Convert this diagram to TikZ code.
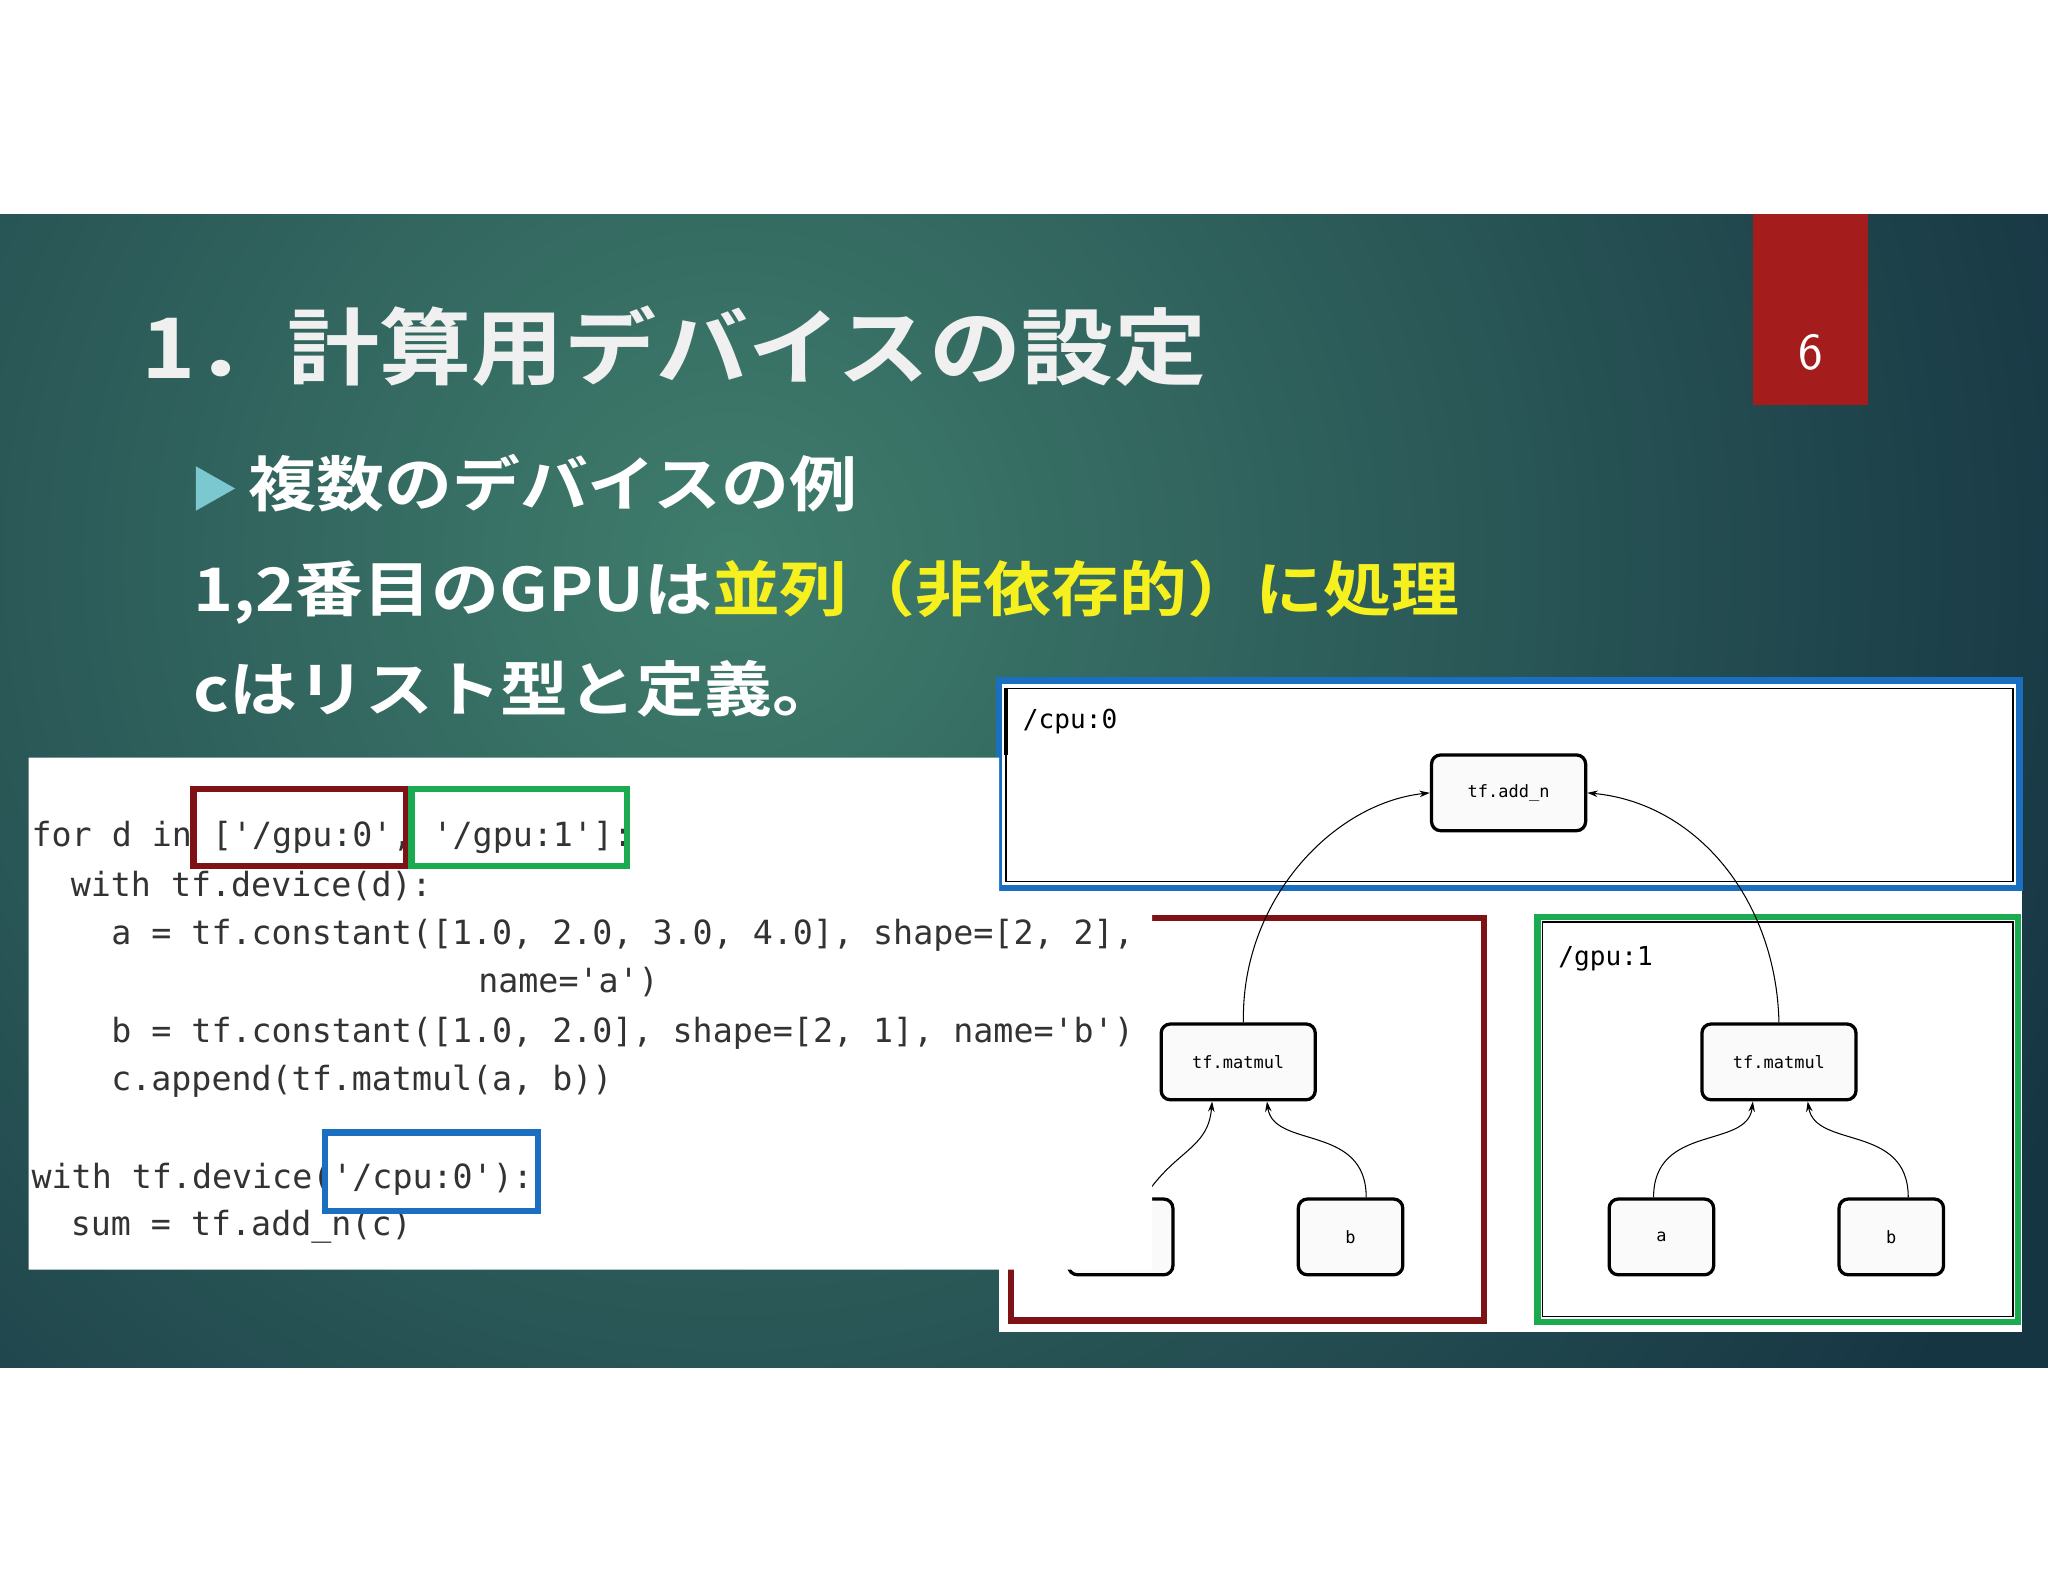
\documentclass[tikz,border=0pt]{standalone}
\usepackage{fontspec}
\setmonofont{DejaVu Sans Mono}
\newfontfamily\jp{Noto Sans CJK JP Bold}
\usetikzlibrary{arrows.meta}
\definecolor{bandouter}{HTML}{163543}
\definecolor{bandinner}{HTML}{3F7D6C}
\definecolor{slidered}{HTML}{A51C1C}
\definecolor{hlred}{HTML}{7E1214}
\definecolor{hlgreen}{HTML}{1AAB50}
\definecolor{hlblue}{HTML}{1A6FC0}
\definecolor{ytext}{HTML}{F5F01E}
\definecolor{bullet}{HTML}{7CC8D0}
\tikzset{
  codeline/.style={anchor=base west,inner sep=0pt,font=\ttfamily\fontsize{25.5}{25.5}\selectfont,text=black!80},
  gnode/.style={draw=black,line width=2.5pt,rounded corners=7pt,fill=gray!4,minimum width=118pt,minimum height=58pt,font=\ttfamily\fontsize{13}{13}\selectfont},
  leaf/.style={gnode,minimum width=80pt},
  edge/.style={-{Stealth[length=8pt,width=5pt]},line width=0.8pt},
  hl/.style={line width=5pt},
  glabel/.style={anchor=base west,inner sep=0pt,font=\ttfamily\fontsize{20}{20}\selectfont},
  jtext/.style={anchor=base west,inner sep=0pt,text=white,xscale=1.13}
}
\begin{document}
\begin{tikzpicture}[x=1pt,y=-1pt]
\useasboundingbox (0,0) rectangle (1568,1211);
\fill[white] (0,0) rectangle (1568,1211);
\begin{scope}
\clip (0,164) rectangle (1568,1047);
\fill[bandouter] (0,160) rectangle (1568,1050);
\shade[inner color=bandinner,outer color=bandouter] (560,430) circle (1100);
\end{scope}
% slide number
\fill[slidered] (1342,164) rectangle (1430,310);
\node[text=white,font=\sffamily\fontsize{40}{40}\selectfont] (num) at (1386,270) {6};
% title
\node[jtext,text=gray!12,font=\jp\fontsize{64}{64}\selectfont,xscale=0.975] (title) at (108,290) {1．計算用デバイスの設定};
\fill[bullet] (150,357) -- (180,374) -- (150,391) -- cycle;
\node[jtext,font=\jp\fontsize{46}{46}\selectfont] (sub) at (190,388) {複数のデバイスの例};
\node[jtext,font=\jp\fontsize{46}{46}\selectfont] (l1) at (148,468) {1,2番目のGPUは\textcolor{ytext}{並列（非依存的）に処理}};
\node[jtext,font=\jp\fontsize{46}{46}\selectfont] (l2) at (148,545) {cはリスト型と定義。};
% graph panel
\fill[white] (765,519) rectangle (1548,1020);
\draw[line width=1.2pt] (770,527) rectangle (1541,675);
\draw[line width=3pt] (770,527) -- (770,578);
\draw[hl,hlblue] (765,521) rectangle (1546,680);
\node[glabel] (cpu) at (783,558) {/cpu:0};
\node[gnode] (add) at (1155,607) {tf.add\_n};
% gpu0 box
\draw[hl,hlred] (774,1011) -- (774,703) -- (1136,703) -- (1136,1011) -- cycle;
% gpu1 box
\draw[line width=1.2pt] (1181,706) rectangle (1541,1008);
\draw[hl,hlgreen] (1177,702) rectangle (1545,1012);
\node[glabel] (gpu) at (1193,739) {/gpu:1};
\node[gnode] (m0) at (948,813) {tf.matmul};
\node[gnode] (m1) at (1362,813) {tf.matmul};
\node[leaf] (a0) at (858,947) {a};
\node[leaf] (b0) at (1034,947) {b};
\node[leaf] (a1) at (1272,947) {a};
\node[leaf] (b1) at (1448,947) {b};
\draw[edge] ([xshift=4pt]m0.north) .. controls (950,690) and (1020,615) .. (add.west);
\draw[edge] (m1.north) .. controls (1360,690) and (1300,615) .. (add.east);
\draw[edge] ([xshift=18pt]a0.north) .. controls (900,880) and (925,880) .. ([xshift=-20pt]m0.south);
\draw[edge] ([xshift=12pt]b0.north) .. controls (1046,860) and (975,880) .. ([xshift=22pt]m0.south);
\draw[edge] ([xshift=-6pt]a1.north) .. controls (1266,860) and (1338,880) .. ([xshift=-20pt]m1.south);
\draw[edge] ([xshift=13pt]b1.north) .. controls (1461,860) and (1390,880) .. ([xshift=22pt]m1.south);
% code panel
\fill[white] (22,580) -- (765,580) -- (765,690) -- (882,690) -- (882,972) -- (22,972) -- cycle;
\node[codeline] (c1) at (24,648) {for d in ['/gpu:0', '/gpu:1']:};
\node[codeline] (c2) at (54,686) {with tf.device(d):};
\node[codeline] (c3) at (85,723) {a = tf.constant([1.0, 2.0, 3.0, 4.0], shape=[2, 2],};
\node[codeline] (c4) at (366,760) {name='a')};
\node[codeline] (c5) at (85,798) {b = tf.constant([1.0, 2.0], shape=[2, 1], name='b')};
\node[codeline] (c6) at (85,835) {c.append(tf.matmul(a, b))};
\node[codeline] (c7) at (24,910) {with tf.device('/cpu:0'):};
\node[codeline] (c8) at (54,946) {sum = tf.add\_n(c)};
\draw[hl,hlred] (148,604) rectangle (311,663);
\draw[hl,hlgreen] (315,604) rectangle (480,663);
\draw[hl,hlblue] (249,867) rectangle (412,927);
\end{tikzpicture}
\end{document}
